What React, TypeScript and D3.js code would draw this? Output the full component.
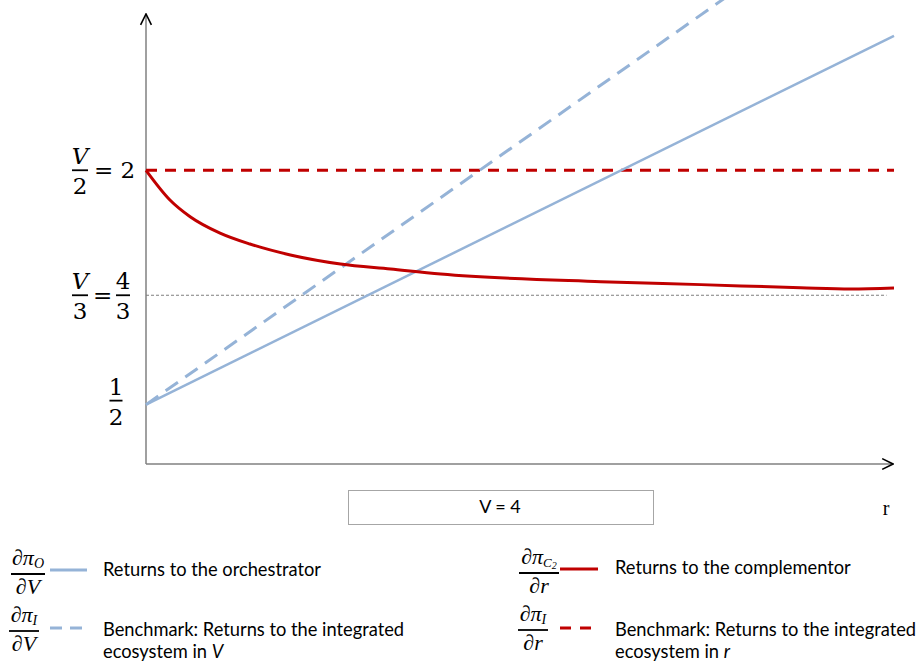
import React from "react";
import * as d3 from "d3";

// r values (x) and returns (y)
const orchestratorR = [0, 10];
const orchestratorY = [0.5, 2.86];
const integratedVR = [0, 8];
const integratedVY = [0.5, 3.19];
const complementorR = [0, 0.32, 0.59, 0.99, 1.39, 1.93, 2.6, 3.27, 3.94, 6.08, 7.42, 8.75, 9.42, 10];
const complementorY = [2.0, 1.81, 1.703, 1.598, 1.528, 1.458, 1.4, 1.368, 1.336, 1.287, 1.268, 1.248, 1.24, 1.246];
const integratedRR = [0, 10];
const integratedRY = [2, 2];
const refLineR = [0, 9.9];
const refLineY = [1.2, 1.2];
// tick positions on the y axis
const tickHalf = 0.5;
const tickThird = 1.2;
const tickHalfV = 2;

const BLUE = "#95b3d7";
const RED = "#c00000";
const AXIS = "#808080";
const MATH = "'DejaVu Serif', serif";
const LMATH = "'Liberation Serif', serif";
const TEXT = "Lato, 'Open Sans', sans-serif";

export default function App() {
  const W = 921, H = 662;
  const x = d3.scaleLinear().domain([0, 10]).range([146, 894]);
  const y = d3.scaleLinear().domain([0.12, 3.0]).range([464, 14]);
  const line = d3.line<[number, number]>().x(d => x(d[0])).y(d => y(d[1]));
  const curve = d3.line<[number, number]>().x(d => x(d[0])).y(d => y(d[1])).curve(d3.curveMonotoneX);
  const zip = (a: number[], b: number[]) => a.map((v, i) => [v, b[i]] as [number, number]);

  const frac = (cx: number, cy: number, num: React.ReactNode, den: React.ReactNode, w: number, fs = 23) => (
    <g>
      <text x={cx} y={cy - 6} textAnchor="middle" fontFamily={MATH} fontSize={fs}>{num}</text>
      <line x1={cx - w / 2} x2={cx + w / 2} y1={cy} y2={cy} stroke="#000" strokeWidth={1.8} />
      <text x={cx} y={cy + 24} textAnchor="middle" fontFamily={MATH} fontSize={fs}>{den}</text>
    </g>
  );
  const lfrac = (cx: number, cy: number, num: React.ReactNode, den: React.ReactNode, w: number) => (
    <g>
      <text x={cx} y={cy - 9} textAnchor="middle" fontFamily={LMATH} fontSize={22} fontStyle="italic">{num}</text>
      <line x1={cx - w / 2} x2={cx + w / 2} y1={cy} y2={cy} stroke="#000" strokeWidth={1.8} />
      <text x={cx} y={cy + 20} textAnchor="middle" fontFamily={LMATH} fontSize={22} fontStyle="italic">{den}</text>
    </g>
  );

  return (
    <svg width={W} height={H} style={{ position: "absolute", left: 0, top: 0, background: "#fff" }}>
      <defs>
        <marker id="arr" viewBox="0 0 10 10" refX="9" refY="5" markerWidth="9" markerHeight="9" orient="auto">
          <path d="M1,1 L9,5 L1,9" fill="none" stroke="#000" strokeWidth={1.2} />
        </marker>
      </defs>
      {/* axes */}
      <line x1={x(0)} y1={464} x2={x(0)} y2={14} stroke={AXIS} strokeWidth={1.5} markerEnd="url(#arr)" />
      <line x1={x(0)} y1={464} x2={893} y2={464} stroke={AXIS} strokeWidth={1.5} markerEnd="url(#arr)" />

      {/* reference line at V/3 */}
      <path d={line(zip(refLineR, refLineY)) || ""} stroke="#7f7f7f" strokeWidth={1} strokeDasharray="3,2" fill="none" />
      {/* series */}
      <path d={line(zip(integratedRR, integratedRY)) || ""} stroke={RED} strokeWidth={3} strokeDasharray="11,8" fill="none" />
      <path d={line(zip(integratedVR, integratedVY)) || ""} stroke={BLUE} strokeWidth={3} strokeDasharray="15,9" fill="none" />
      <path d={line(zip(orchestratorR, orchestratorY)) || ""} stroke={BLUE} strokeWidth={2.5} fill="none" />
      <path d={curve(zip(complementorR, complementorY)) || ""} stroke={RED} strokeWidth={3} fill="none" />

      {/* y labels */}
      {frac(80, y(tickHalfV), <tspan fontStyle="italic">V</tspan>, "2", 16)}
      <text x={94} y={y(tickHalfV) + 8} fontFamily={MATH} fontSize={23}>= 2</text>
      {frac(80, y(tickThird), <tspan fontStyle="italic">V</tspan>, "3", 16)}
      <text x={93} y={y(tickThird) + 8} fontFamily={MATH} fontSize={23}>=</text>
      {frac(123, y(tickThird), "4", "3", 14)}
      {frac(116, y(tickHalf) - 4, "1", "2", 13)}

      {/* V = 4 box */}
      <rect x={348.5} y={490.5} width={305} height={34} fill="#fff" stroke="#a6a6a6" strokeWidth={1} />
      <text x={500} y={513} textAnchor="middle" fontFamily={TEXT} fontSize={18}>V = 4</text>
      <text x={886} y={515} textAnchor="middle" fontFamily="'Liberation Serif', serif" fontSize={20}>r</text>

      {/* legend left */}
      {lfrac(28, 574, <tspan>∂π<tspan fontSize={14} dy={3}>O</tspan></tspan>, "∂V", 34)}
      <line x1={50} x2={87} y1={570} y2={570} stroke={BLUE} strokeWidth={3} />
      <text x={103} y={576} fontFamily={TEXT} fontSize={18.3}>Returns to the orchestrator</text>
      {lfrac(24, 631, <tspan>∂π<tspan fontSize={14} dy={3}>I</tspan></tspan>, "∂V", 30)}
      <line x1={50} x2={82} y1={628} y2={628} stroke={BLUE} strokeWidth={3} strokeDasharray="12,8" />
      <text x={103} y={636} fontFamily={TEXT} fontSize={18.3}>Benchmark: Returns to the integrated</text>
      <text x={103} y={658} fontFamily={TEXT} fontSize={18.3}>ecosystem in <tspan fontStyle="italic">V</tspan></text>

      {/* legend right */}
      {lfrac(539, 573, <tspan>∂π<tspan fontSize={13} dy={3}>C</tspan><tspan fontSize={10} dy={2}>2</tspan></tspan>, "∂r", 40)}
      <line x1={560} x2={598} y1={569} y2={569} stroke={RED} strokeWidth={3} />
      <text x={615} y={574} fontFamily={TEXT} fontSize={18.3}>Returns to the complementor</text>
      {lfrac(533, 630, <tspan>∂π<tspan fontSize={14} dy={3}>I</tspan></tspan>, "∂r", 30)}
      <line x1={560} x2={591} y1={628} y2={628} stroke={RED} strokeWidth={3} strokeDasharray="11,9" />
      <text x={615} y={636} fontFamily={TEXT} fontSize={18.3}>Benchmark: Returns to the integrated</text>
      <text x={615} y={658} fontFamily={TEXT} fontSize={18.3}>ecosystem in <tspan fontStyle="italic">r</tspan></text>
    </svg>
  );
}
